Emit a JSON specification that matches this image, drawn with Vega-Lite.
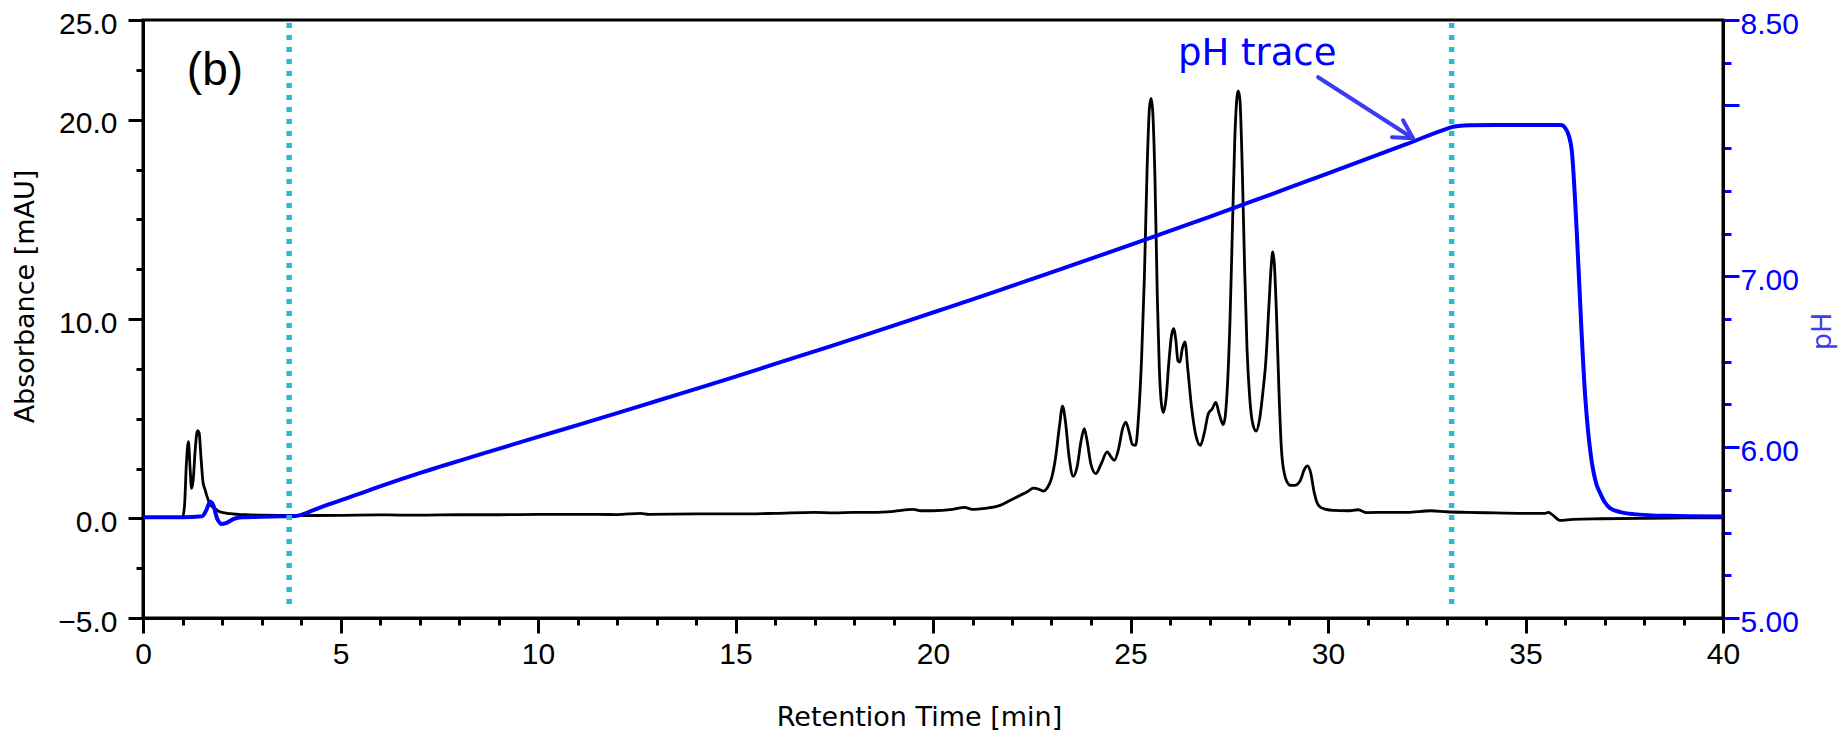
{
  "$schema": "https://vega.github.io/schema/vega-lite/v6.json",
  "width": 1580,
  "height": 598,
  "autosize": {"type": "none"},
  "padding": {"left": 143, "top": 20, "right": 119, "bottom": 115},
  "background": "#ffffff",
  "config": {
    "font": "Liberation Sans",
    "view": {"stroke": "#000000", "strokeWidth": 3},
    "axis": {
      "grid": false,
      "labelFont": "Liberation Sans",
      "labelFontSize": 30,
      "labelColor": "#000000",
      "labelFlush": false,
      "labelOverlap": false,
      "labelBound": false,
      "titleFont": "DejaVu Sans",
      "titleFontSize": 27,
      "titleFontWeight": "normal",
      "titleColor": "#000000",
      "domainColor": "#000000",
      "domainWidth": 3,
      "tickColor": "#000000",
      "tickWidth": 3
    }
  },
  "datasets": {
    "abs": [
      {"t":0,"a":0.05},{"t":0.5,"a":0.05},{"t":1.0,"a":0.05},{"t":1.05,"a":0.6},{"t":1.1,"a":2.8},{"t":1.15,"a":3.85},{"t":1.19,"a":2.6},{"t":1.23,"a":1.5},{"t":1.27,"a":1.9},{"t":1.32,"a":3.4},{"t":1.38,"a":4.4},{"t":1.42,"a":4.3},{"t":1.47,"a":3.0},{"t":1.52,"a":1.8},{"t":1.57,"a":1.45},{"t":1.62,"a":1.1},{"t":1.7,"a":0.7},{"t":1.82,"a":0.49},{"t":1.95,"a":0.32},{"t":2.2,"a":0.24},{"t":2.6,"a":0.18},{"t":3.0,"a":0.16},{"t":4.0,"a":0.14},{"t":5,"a":0.15},{"t":6,"a":0.17},{"t":7,"a":0.16},{"t":8,"a":0.18},{"t":9,"a":0.18},{"t":10,"a":0.2},{"t":11,"a":0.2},{"t":12,"a":0.19},{"t":12.6,"a":0.25},{"t":12.8,"a":0.2},{"t":14,"a":0.22},{"t":15,"a":0.22},{"t":16,"a":0.25},{"t":17,"a":0.3},{"t":17.5,"a":0.27},{"t":18,"a":0.3},{"t":18.5,"a":0.3},{"t":19,"a":0.35},{"t":19.5,"a":0.45},{"t":19.7,"a":0.38},{"t":20,"a":0.38},{"t":20.5,"a":0.45},{"t":20.8,"a":0.55},{"t":21.0,"a":0.45},{"t":21.3,"a":0.5},{"t":21.7,"a":0.65},{"t":22.0,"a":0.95},{"t":22.2,"a":1.15},{"t":22.4,"a":1.35},{"t":22.54,"a":1.52},{"t":22.65,"a":1.48},{"t":22.79,"a":1.37},{"t":22.9,"a":1.55},{"t":23.0,"a":2.0},{"t":23.1,"a":3.0},{"t":23.2,"a":4.6},{"t":23.28,"a":5.63},{"t":23.35,"a":4.9},{"t":23.45,"a":3.0},{"t":23.55,"a":2.11},{"t":23.65,"a":2.6},{"t":23.75,"a":3.9},{"t":23.83,"a":4.5},{"t":23.9,"a":3.9},{"t":24.0,"a":2.7},{"t":24.12,"a":2.24},{"t":24.25,"a":2.7},{"t":24.41,"a":3.33},{"t":24.5,"a":3.1},{"t":24.59,"a":2.91},{"t":24.7,"a":3.5},{"t":24.8,"a":4.5},{"t":24.88,"a":4.83},{"t":24.97,"a":4.3},{"t":25.05,"a":3.7},{"t":25.13,"a":3.66},{"t":25.2,"a":5.0},{"t":25.28,"a":8.0},{"t":25.35,"a":12.0},{"t":25.42,"a":17.5},{"t":25.48,"a":20.6},{"t":25.52,"a":21.07},{"t":25.56,"a":20.5},{"t":25.62,"a":17.0},{"t":25.68,"a":11.0},{"t":25.73,"a":7.5},{"t":25.78,"a":5.8},{"t":25.83,"a":5.3},{"t":25.9,"a":6.0},{"t":25.97,"a":7.8},{"t":26.04,"a":9.2},{"t":26.09,"a":9.52},{"t":26.15,"a":8.9},{"t":26.2,"a":7.9},{"t":26.25,"a":7.84},{"t":26.31,"a":8.5},{"t":26.38,"a":8.85},{"t":26.45,"a":7.5},{"t":26.55,"a":5.5},{"t":26.65,"a":4.2},{"t":26.77,"a":3.66},{"t":26.87,"a":4.3},{"t":26.97,"a":5.25},{"t":27.07,"a":5.5},{"t":27.16,"a":5.81},{"t":27.25,"a":5.2},{"t":27.35,"a":4.7},{"t":27.45,"a":6.5},{"t":27.52,"a":10.0},{"t":27.58,"a":14.5},{"t":27.64,"a":19.0},{"t":27.7,"a":21.2},{"t":27.73,"a":21.44},{"t":27.77,"a":21.0},{"t":27.83,"a":17.5},{"t":27.89,"a":12.5},{"t":27.95,"a":8.5},{"t":28.02,"a":6.0},{"t":28.1,"a":4.7},{"t":28.18,"a":4.38},{"t":28.27,"a":5.0},{"t":28.35,"a":6.3},{"t":28.43,"a":8.0},{"t":28.5,"a":10.5},{"t":28.56,"a":12.6},{"t":28.6,"a":13.36},{"t":28.64,"a":12.8},{"t":28.7,"a":10.0},{"t":28.76,"a":6.3},{"t":28.82,"a":3.5},{"t":28.9,"a":2.2},{"t":28.97,"a":1.8},{"t":29.04,"a":1.66},{"t":29.15,"a":1.65},{"t":29.3,"a":1.9},{"t":29.4,"a":2.45},{"t":29.48,"a":2.63},{"t":29.56,"a":2.3},{"t":29.65,"a":1.3},{"t":29.72,"a":0.8},{"t":29.8,"a":0.57},{"t":29.95,"a":0.45},{"t":30.13,"a":0.4},{"t":30.5,"a":0.38},{"t":30.76,"a":0.43},{"t":30.98,"a":0.29},{"t":31.5,"a":0.3},{"t":32.0,"a":0.3},{"t":32.6,"a":0.38},{"t":33.0,"a":0.33},{"t":33.5,"a":0.3},{"t":34,"a":0.28},{"t":35,"a":0.25},{"t":35.5,"a":0.25},{"t":35.58,"a":0.3},{"t":35.7,"a":0.15},{"t":35.87,"a":-0.1},{"t":36.2,"a":-0.05},{"t":36.9,"a":-0.02},{"t":38,"a":0.0},{"t":39,"a":0.02},{"t":40,"a":0.03}
    ],
    "ph": [
      {"t":0,"p":5.59},{"t":0.5,"p":5.59},{"t":1.0,"p":5.59},{"t":1.5,"p":5.595},{"t":1.6,"p":5.63},{"t":1.7,"p":5.68},{"t":1.78,"p":5.66},{"t":1.88,"p":5.58},{"t":2.0,"p":5.55},{"t":2.1,"p":5.555},{"t":2.3,"p":5.58},{"t":2.5,"p":5.59},{"t":3.0,"p":5.592},{"t":3.5,"p":5.595},{"t":3.85,"p":5.597},{"t":4.05,"p":5.607},{"t":4.3,"p":5.63},{"t":4.7,"p":5.665},{"t":5.2,"p":5.705},{"t":5.6,"p":5.737},{"t":6.0,"p":5.77},{"t":6.5,"p":5.81},{"t":7.0,"p":5.848},{"t":7.5,"p":5.884},{"t":8,"p":5.92},{"t":9,"p":5.99},{"t":10,"p":6.06},{"t":11,"p":6.129},{"t":12,"p":6.199},{"t":13,"p":6.27},{"t":14,"p":6.341},{"t":15,"p":6.413},{"t":16,"p":6.487},{"t":17,"p":6.561},{"t":18,"p":6.635},{"t":19,"p":6.711},{"t":20,"p":6.788},{"t":21,"p":6.865},{"t":22,"p":6.944},{"t":23,"p":7.023},{"t":24,"p":7.103},{"t":25,"p":7.184},{"t":26,"p":7.266},{"t":27,"p":7.348},{"t":28,"p":7.432},{"t":29,"p":7.517},{"t":30,"p":7.602},{"t":31,"p":7.688},{"t":32,"p":7.775},{"t":33,"p":7.863},{"t":33.13,"p":7.873},{"t":33.3,"p":7.88},{"t":33.6,"p":7.884},{"t":34.5,"p":7.885},{"t":35.5,"p":7.886},{"t":35.9,"p":7.885},{"t":36.0,"p":7.87},{"t":36.1,"p":7.82},{"t":36.17,"p":7.74},{"t":36.3,"p":7.25},{"t":36.42,"p":6.67},{"t":36.51,"p":6.3},{"t":36.55,"p":6.18},{"t":36.67,"p":5.926},{"t":36.8,"p":5.78},{"t":36.89,"p":5.731},{"t":37.0,"p":5.68},{"t":37.14,"p":5.643},{"t":37.4,"p":5.62},{"t":37.73,"p":5.608},{"t":38.57,"p":5.598},{"t":40,"p":5.594}
    ],
    "marks": [{"t": 3.7}, {"t": 33.13}],
    "arrow": [
      {"t": 29.75, "a": 22.13, "t2": 32.15, "a2": 19.07},
      {"t": 31.9, "a": 19.97, "t2": 32.15, "a2": 19.07},
      {"t": 31.62, "a": 19.12, "t2": 32.15, "a2": 19.07}
    ],
    "phlabel": [{"t": 26.2, "p": 8.237, "label": "pH trace"}],
    "panel": [{"t": 1.11, "a": 21.73, "label": "(b)"}]
  },
  "resolve": {"scale": {"y": "independent"}, "axis": {"x": "independent", "y": "independent"}},
  "layer": [
    {
      "data": {"name": "abs"},
      "mark": {"type": "line", "color": "#000000", "strokeWidth": 2.8, "interpolate": "monotone"},
      "encoding": {
        "x": {"field": "t", "type": "quantitative", "scale": {"domain": [0, 40], "nice": false, "zero": false},
              "axis": {"orient": "bottom", "values": [0,1,2,3,4,5,6,7,8,9,10,11,12,13,14,15,16,17,18,19,20,21,22,23,24,25,26,27,28,29,30,31,32,33,34,35,36,37,38,39,40], "tickSize": 7, "labels": false, "domain": false, "title": null}},
        "y": {"field": "a", "type": "quantitative", "scale": {"domain": [-5, 25], "nice": false, "zero": false},
              "axis": {"orient": "left", "values": [-5,-2.5,0,2.5,5,7.5,10,12.5,15,17.5,20,22.5,25], "tickSize": 7, "labels": false, "domain": false, "title": null}}
      }
    },
    {
      "data": {"name": "ph"},
      "mark": {"type": "line", "color": "#0000ff", "strokeWidth": 4, "interpolate": "monotone"},
      "encoding": {
        "x": {"field": "t", "type": "quantitative", "scale": {"domain": [0, 40], "nice": false, "zero": false}, "axis": null},
        "y": {"field": "p", "type": "quantitative", "scale": {"domain": [5, 8.5], "nice": false, "zero": false},
              "axis": {"orient": "right", "values": [5,5.25,5.5,5.75,6,6.25,6.5,6.75,7,7.25,7.5,7.75,8,8.25,8.5], "tickSize": 8, "tickColor": "#0000ff", "labels": false, "domain": false, "title": null}}
      }
    },
    {
      "data": {"name": "marks"},
      "mark": {"type": "rule", "color": "#26bcd7", "strokeWidth": 5.5, "strokeDash": [5, 7]},
      "encoding": {
        "x": {"field": "t", "type": "quantitative", "scale": {"domain": [0, 40], "nice": false, "zero": false},
              "axis": {"orient": "bottom", "values": [0,5,10,15,20,25,30,35,40], "tickSize": 15, "labelPadding": 6, "labelBaseline": "top", "format": "d",
                       "title": "Retention Time [min]", "titleX": 776, "titleY": 107, "titleAlign": "center", "titleBaseline": "alphabetic", "titleAngle": 0}},
        "y": {"datum": -4.3, "type": "quantitative", "scale": {"domain": [-5, 25], "nice": false, "zero": false},
              "axis": {"orient": "left", "values": [-5,0,10,20,25], "format": ".1f", "tickSize": 15, "labelPadding": 11, "labelBaseline": "middle", "labelOffset": 4,
                       "title": "Absorbance [mAU]", "titleX": -110, "titleY": 276, "titleAngle": 270, "titleAlign": "center", "titleBaseline": "alphabetic"}},
        "y2": {"datum": 25}
      }
    },
    {
      "data": {"name": "arrow"},
      "mark": {"type": "rule", "color": "#3b3bf2", "strokeWidth": 4, "strokeCap": "round"},
      "encoding": {
        "x": {"field": "t", "type": "quantitative", "scale": {"domain": [0, 40], "nice": false, "zero": false}, "axis": null},
        "x2": {"field": "t2"},
        "y": {"field": "a", "type": "quantitative", "scale": {"domain": [-5, 25], "nice": false, "zero": false}, "axis": null},
        "y2": {"field": "a2"}
      }
    },
    {
      "data": {"name": "phlabel"},
      "mark": {"type": "text", "font": "DejaVu Sans", "fontSize": 37, "color": "#0000ff", "align": "left", "baseline": "alphabetic"},
      "encoding": {
        "x": {"field": "t", "type": "quantitative", "scale": {"domain": [0, 40], "nice": false, "zero": false}, "axis": null},
        "y": {"field": "p", "type": "quantitative", "scale": {"domain": [5, 8.5], "nice": false, "zero": false},
              "axis": {"orient": "right", "values": [5,6,7,8,8.5], "labelExpr": "datum.value == 8 ? '' : format(datum.value, '.2f')", "tickSize": 16, "tickColor": "#0000ff", "labelColor": "#0000ff", "labelPadding": 1, "labelBaseline": "middle", "labelOffset": 4, "labelAlign": "left",
                       "title": "pH", "titleColor": "#3d3df5", "titleX": 107, "titleY": 311, "titleAngle": 270, "titleAlign": "center", "titleBaseline": "alphabetic"}},
        "text": {"field": "label"}
      }
    },
    {
      "data": {"name": "panel"},
      "mark": {"type": "text", "font": "Liberation Sans", "fontSize": 46, "color": "#000000", "align": "left", "baseline": "alphabetic"},
      "encoding": {
        "x": {"field": "t", "type": "quantitative", "scale": {"domain": [0, 40], "nice": false, "zero": false}, "axis": null},
        "y": {"field": "a", "type": "quantitative", "scale": {"domain": [-5, 25], "nice": false, "zero": false}, "axis": null},
        "text": {"field": "label"}
      }
    }
  ]
}
